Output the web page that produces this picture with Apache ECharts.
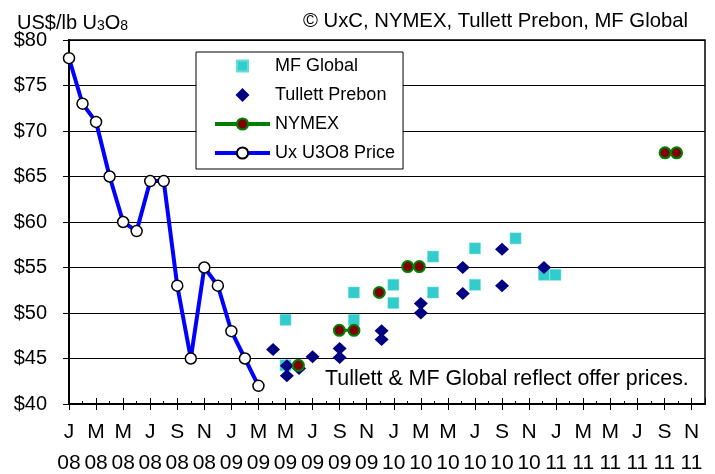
<!DOCTYPE html>
<html>
<head>
<meta charset="utf-8">
<script src="https://cdn.jsdelivr.net/npm/echarts@6/dist/echarts.min.js"></script>
<style>
html,body{margin:0;padding:0;background:#fff;}
#c{width:715px;height:474px;}
</style>
</head>
<body>
<div id="c"></div>
<script>
// x positions are month indexes counted from Jan 2008 (0) to Dec 2011 (47)
var monthLabels = ['J','M','M','J','S','N','J','M','M','J','S','N','J','M','M','J','S','N','J','M','M','J','S','N'];
var yearLabels  = ['08','08','08','08','08','08','09','09','09','09','09','09','10','10','10','10','10','10','11','11','11','11','11','11'];
var yTicks = [40, 45, 50, 55, 60, 65, 70, 75, 80];

var uxMonths = [0,1,2,3,4,5,6,7,8,9,10,11,12,13,14];
var uxPrice  = [78,73,71,65,60,59,64.5,64.5,53,45,55,53,48,45,42];

var mfMonths = [16,16,21.05,21.05,23.97,23.97,26.9,26.9,30,30,33,35.1,35.95];
var mfPrice  = [49.25,44.25,52.25,49.25,53.1,51.1,56.2,52.25,57.1,53.1,58.2,54.2,54.2];

var tpMonths = [15.08,16.1,16.1,17.0,18.0,20.0,20.0,23.1,23.1,26.0,26.0,29.1,29.1,32.0,32.0,35.1];
var tpPrice  = [46,44.2,43.1,43.9,45.2,46.1,45.1,48.05,47.1,51.05,50,55,52.15,57,53,55];

// null entries break the NYMEX line between quote pairs
var nymexMonths = [16.95,null,19.98,21.06,null,22.93,null,25.03,25.89,null,44.05,44.9];
var nymexPrice  = [44.25,null,48.1,48.1,null,52.25,null,55.1,55.1,null,67.6,67.6];

function pairs(xs, ys){
  return xs.map(function(x,i){ return (x===null||ys[i]===null) ? ['-','-'] : [x, ys[i]]; });
}

var FONT = '"Liberation Sans", Arial, sans-serif';
var chart = echarts.init(document.getElementById('c'), null, {renderer:'canvas'});

function xLabel(v){
  if (v % 2 !== 0) return '';
  var k = v/2;
  if (k < 0 || k >= monthLabels.length) return '';
  return monthLabels[k] + '\n' + yearLabels[k];
}

var option = {
  backgroundColor:'#fff',
  animation:false,
  textStyle:{fontFamily:FONT},
  title:[
    {text:'{a|US$/lb U}{s|3}{a|O}{s|8}', left:12, top:4,
     textStyle:{fontWeight:'normal',
                rich:{a:{fontSize:20,fontWeight:'normal',fontFamily:FONT,color:'#000',lineHeight:24,verticalAlign:'bottom'},
                      s:{fontSize:14,fontWeight:'normal',fontFamily:FONT,color:'#000',lineHeight:20,verticalAlign:'bottom'}}}},
    {text:'\u00A9 UxC, NYMEX, Tullett Prebon, MF Global', right:22, top:4,
     textStyle:{fontSize:20.3,fontWeight:'normal',fontFamily:FONT,color:'#000',lineHeight:24}}
  ],
  grid:{left:69, right:10, top:40, bottom:70, show:true, borderColor:'#000', borderWidth:1.5, backgroundColor:'#fff',
        containLabel:false, outerBoundsMode:'none'},
  legend:{
    orient:'vertical', left:196, top:52,
    padding:[4,8,6,17], itemGap:9, itemWidth:55, itemHeight:14,
    backgroundColor:'#fff', borderColor:'#000', borderWidth:1,
    textStyle:{fontSize:18, fontFamily:FONT, color:'#000', lineHeight:20},
    data:[
      {name:'MF Global', icon:'path://M-1.5,-1.5M0,0h11v11h-11zM12.5,12.5', itemStyle:{opacity:1}},
      {name:'Tullett Prebon', icon:'path://M7,0L14,7L7,14L0,7z', itemStyle:{opacity:1}},
      {name:'NYMEX', lineStyle:{width:4, color:'#008000'}},
      {name:'Ux U3O8 Price', lineStyle:{width:4, color:'#0000FF'}}
    ]
  },
  xAxis:[
    {type:'value', min:0, max:47, interval:2, position:'bottom',
     axisLine:{show:true, onZero:false, lineStyle:{color:'#000', width:2}},
     axisTick:{show:true, inside:false, length:6, lineStyle:{color:'#000', width:1}},
     minorTick:{show:false},
     splitLine:{show:false},
     axisLabel:{formatter:xLabel, fontSize:21, lineHeight:31, margin:13, color:'#000', fontFamily:FONT,
                showMinLabel:true, showMaxLabel:false}
    },
    {type:'value', min:0, max:47, interval:2, position:'bottom', gridIndex:0,
     axisLine:{show:false, onZero:false},
     axisTick:{show:true, inside:true, length:6, lineStyle:{color:'#000', width:1}},
     minorTick:{show:true, splitNumber:2, length:3, lineStyle:{color:'#000', width:1}},
     splitLine:{show:false},
     axisLabel:{show:false}
    }
  ],
  yAxis:{type:'value', min:yTicks[0], max:yTicks[yTicks.length-1], interval:5,
     axisLine:{show:true, lineStyle:{color:'#000', width:2}},
     axisTick:{show:true, inside:false, length:6, lineStyle:{color:'#000', width:1}},
     splitLine:{show:true, lineStyle:{color:'#000', width:1}},
     axisLabel:{formatter:'${value}', fontSize:20, margin:22, color:'#000', fontFamily:FONT}
  },
  series:[
    {name:'MF Global', type:'scatter', xAxisIndex:0, z:2,
     symbol:'rect', symbolSize:11,
     itemStyle:{color:'#33CCCC', borderColor:'#66DDDD', borderWidth:0.5, opacity:1},
     data:pairs(mfMonths, mfPrice)},
    {name:'Tullett Prebon', type:'scatter', xAxisIndex:0, z:3,
     symbol:'diamond', symbolSize:[14,13],
     itemStyle:{color:'#000080', opacity:1},
     data:pairs(tpMonths, tpPrice)},
    {name:'NYMEX', type:'line', xAxisIndex:0, z:4,
     symbol:'circle', symbolSize:11, showAllSymbol:true, connectNulls:false,
     lineStyle:{color:'#008000', width:3},
     itemStyle:{color:'#800000', borderColor:'#008000', borderWidth:2},
     data:pairs(nymexMonths, nymexPrice)},
    {name:'Ux U3O8 Price', type:'line', xAxisIndex:0, z:5,
     symbol:'circle', symbolSize:11, showAllSymbol:true,
     lineStyle:{color:'#0000FF', width:4},
     itemStyle:{color:'#FFFFFF', borderColor:'#000', borderWidth:1.5},
     data:pairs(uxMonths, uxPrice)}
  ],
  graphic:[
    {type:'text', left:325, top:369, z:10,
     style:{text:'Tullett & MF Global reflect offer prices.', fontSize:21.4, fontFamily:FONT, fill:'#000'}}
  ]
};
chart.setOption(option);
</script>
</body>
</html>
